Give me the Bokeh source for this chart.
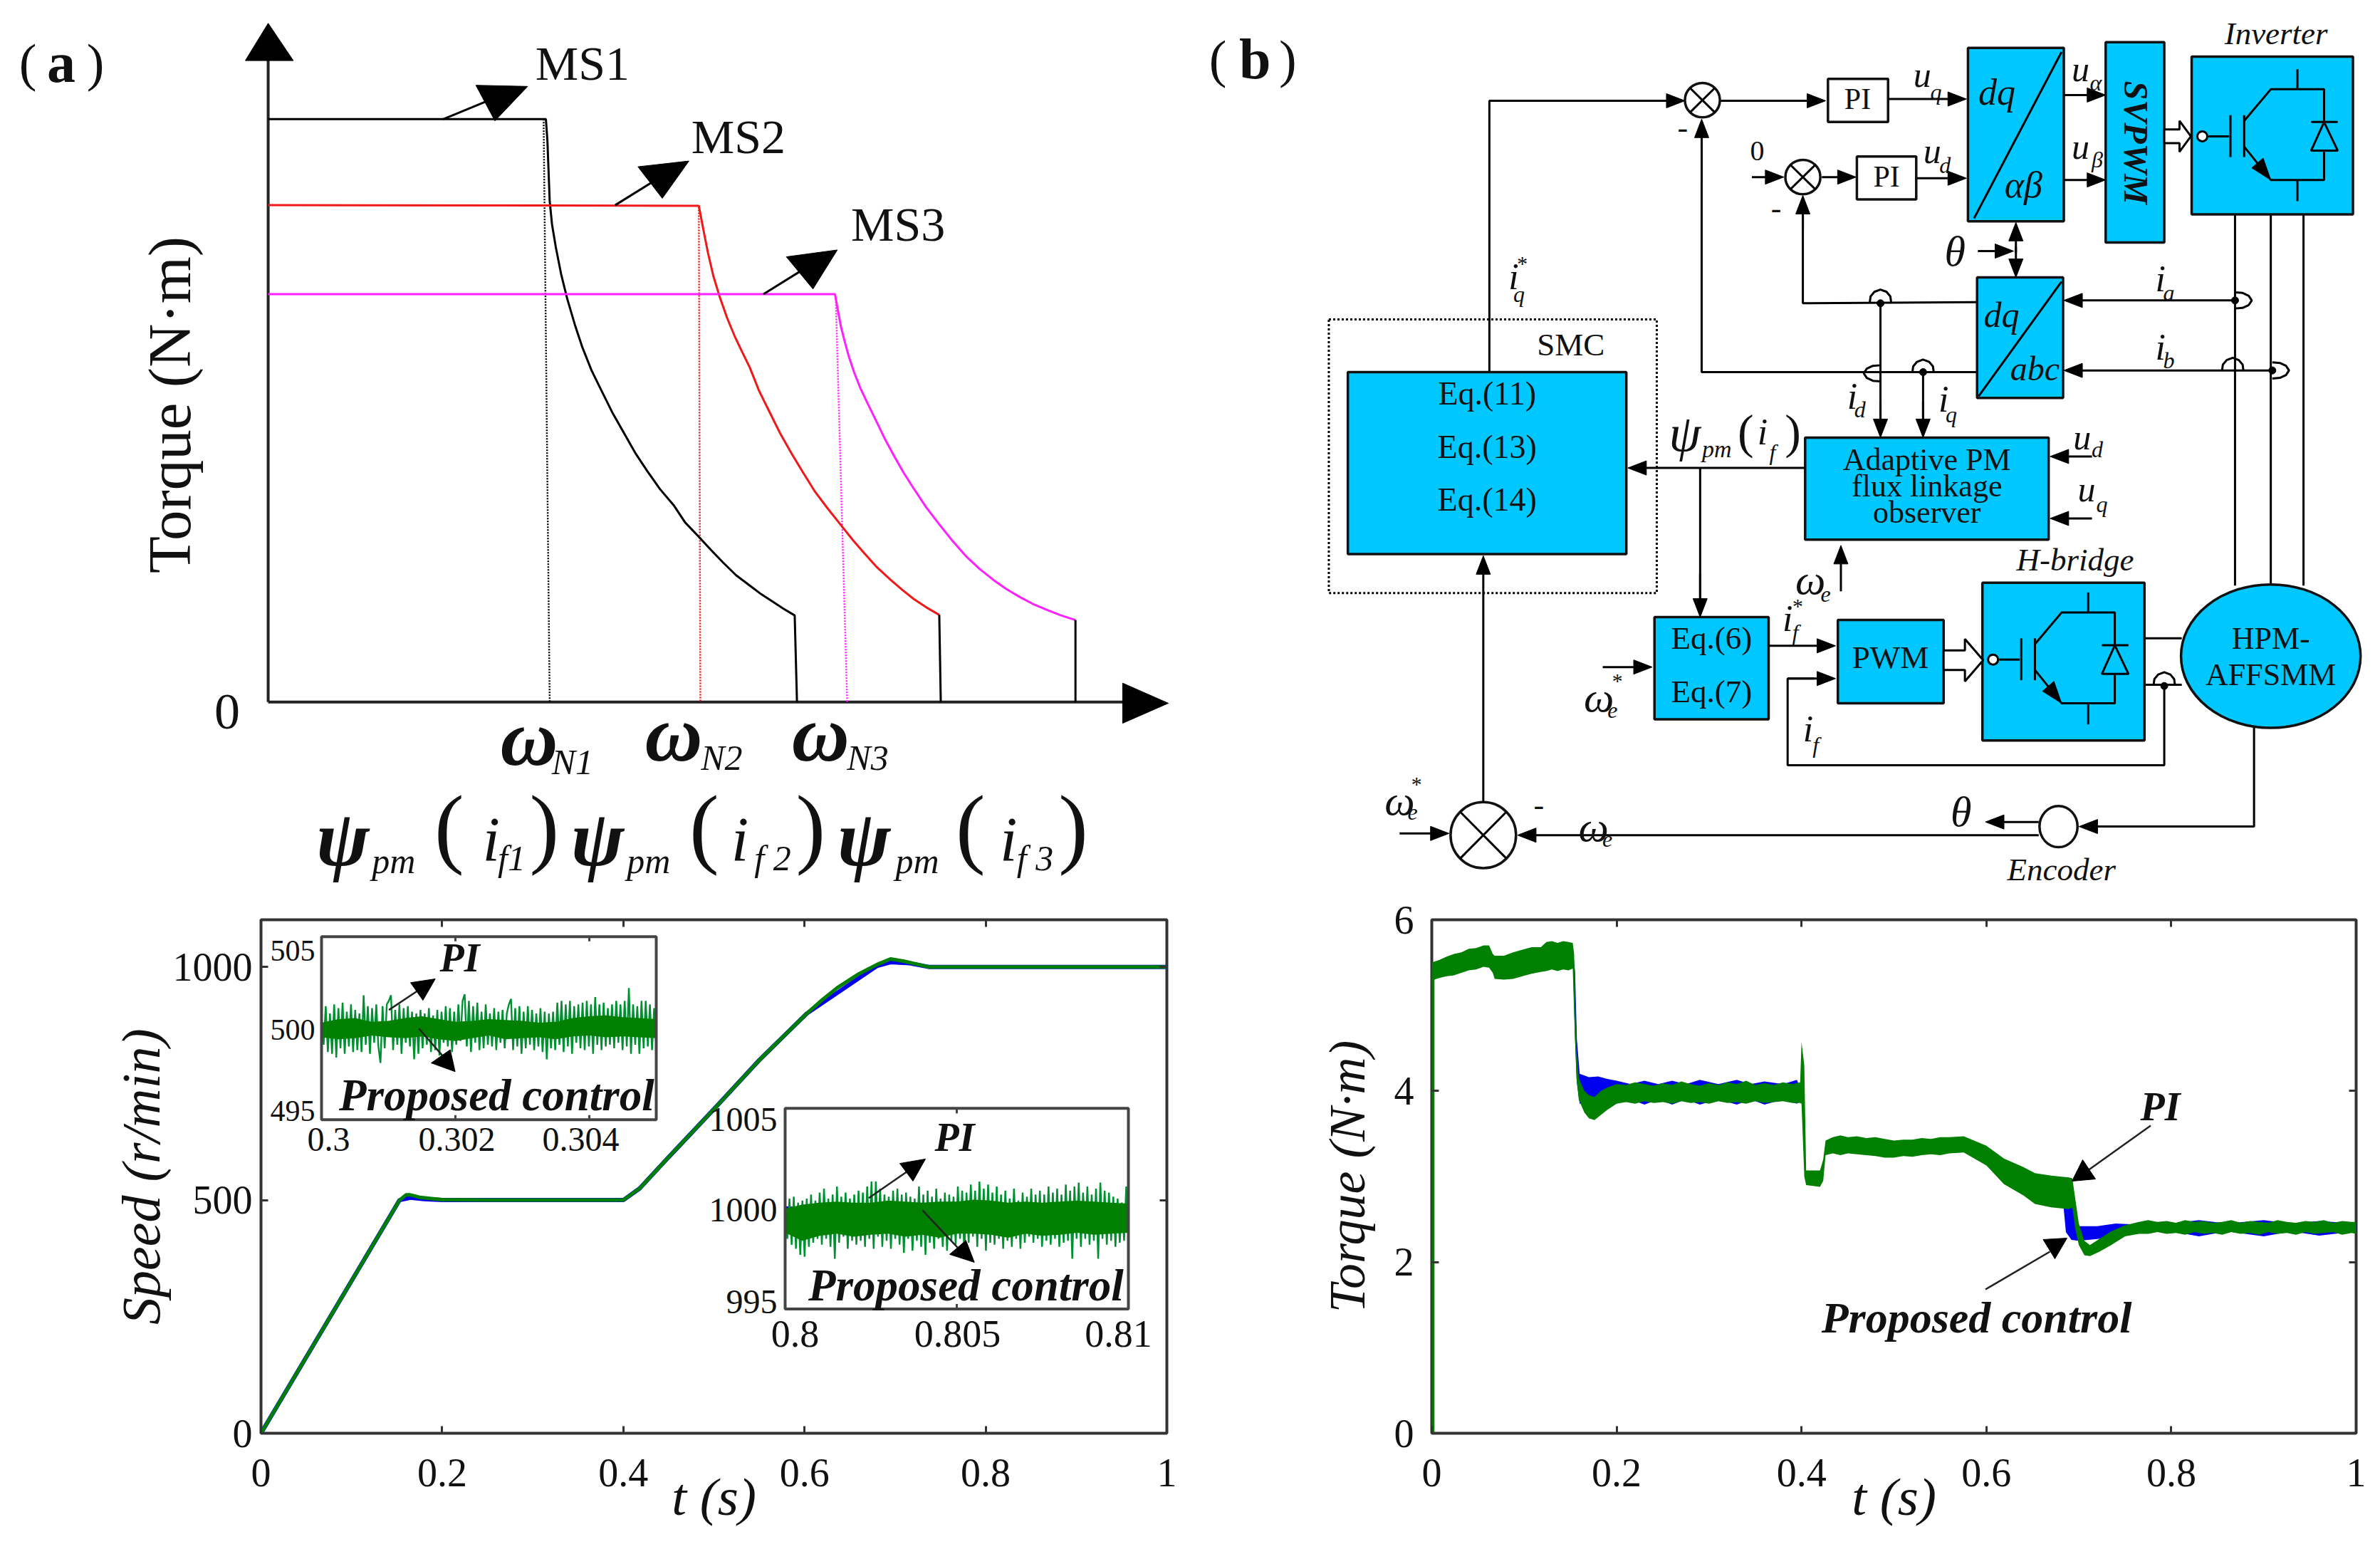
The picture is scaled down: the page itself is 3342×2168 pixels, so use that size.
from bokeh.plotting import figure
from bokeh.layouts import column, row
from bokeh.embed import file_html
from bokeh.resources import INLINE
from bokeh.core.properties import value
from bokeh.models import Range1d, LinearAxis, FixedTicker
import math

# ---------------- DATA: panel (a), torque/speed envelopes ----------------
MS1_X = [352, 717, 719, 720, 722, 725, 730, 737, 745, 755, 765, 777, 790, 805, 820, 835, 850, 867, 885, 900, 918, 934, 950, 967, 985, 1000, 1015, 1030, 1044, 1047]
MS1_Y = [207, 207, 245, 280, 350, 390, 430, 477, 520, 565, 605, 645, 680, 720, 755, 790, 820, 852, 880, 910, 935, 958, 980, 1002, 1020, 1035, 1048, 1061, 1072, 1223]
MS2_X = [352, 918, 924, 930, 937, 945, 955, 965, 975, 985, 997, 1010, 1025, 1040, 1055, 1070, 1087, 1105, 1120, 1135, 1152, 1170, 1185, 1200, 1217, 1234]
MS2_Y = [357, 358, 400, 440, 480, 515, 553, 585, 613, 640, 680, 715, 755, 790, 823, 855, 885, 915, 940, 963, 988, 1010, 1027, 1043, 1058, 1071]
MS2_END_X = [1234, 1236]
MS2_END_Y = [1071, 1223]
MS3_X = [352, 1097, 1101, 1105, 1110, 1115, 1122, 1130, 1140, 1150, 1162, 1175, 1187, 1200, 1217, 1235, 1252, 1270, 1287, 1305, 1322, 1340, 1357, 1375, 1394, 1413]
MS3_Y = [512, 512, 542, 570, 596, 620, 648, 675, 703, 730, 763, 795, 823, 850, 884, 915, 943, 970, 991, 1010, 1026, 1040, 1052, 1062, 1072, 1080]
MS3_END_X = [1413, 1413]
MS3_END_Y = [1080, 1223]
RATED = [(714, 207, 722, "#000000"), (918, 360, 920, "#e02020"), (1098, 520, 1113, "#ff20ff")]
MS_ARROWS = [
    ("MS1", 765, 110, [582, 650], [207, 170], [625, 693, 650], [148, 150, 210]),
    ("MS2", 970, 238, [808, 865], [357, 310], [838, 905, 870], [290, 280, 345]),
    ("MS3", 1180, 390, [1003, 1060], [512, 465], [1033, 1100, 1068], [447, 435, 503]),
]
OMEGA_LABELS = [("N1", 695, 1285, 752, 1328), ("N2", 885, 1278, 948, 1320), ("N3", 1078, 1278, 1140, 1320)]
PSI_LABELS = [
    (450, 517, 590, 645, 672, "f1", 715),
    (785, 852, 925, 972, 1015, "f 2", 1065),
    (1135, 1205, 1275, 1325, 1360, "f 3", 1410),
]

# ---------------- DATA: panel (b), block diagram ----------------
CYAN = [(1022, 83, 1148, 385), (1203, 73, 1280, 422), (1316, 98, 1528, 373), (1034, 483, 1147, 693),
        (207, 648, 573, 965), (808, 762, 1128, 940), (610, 1075, 760, 1253), (851, 1080, 990, 1225),
        (1041, 1015, 1254, 1290)]
WHITE = [(838, 137, 917, 212), (876, 272, 954, 347)]
WIRES = [
    ([393, 393, 620], [648, 175, 175]),
    ([672, 672, 1034], [240, 648, 648]),
    ([805, 805, 1034], [370, 528, 526]),
    ([907, 907], [528, 740]),
    ([963, 963], [648, 740]),
    ([1373, 1373], [373, 1020]), ([1420, 1420], [373, 1020]), ([1463, 1463], [373, 1020]),
    ([670, 670], [815, 1050]),
    ([1280, 1280, 785, 785, 820], [1195, 1333, 1333, 1182, 1182]),
    ([1254, 1303], [1112, 1112]), ([1254, 1303], [1193, 1193]),
    ([1398, 1398, 1190], [1268, 1440, 1440]),
]
DIAGONALS = [([1036, 1145], [690, 490]), ([1030, 1145], [380, 90])]
ARROWS_B = [
    (560, 175, 650, 175), (697, 175, 835, 175), (917, 172, 1020, 172), (738, 308, 780, 308), (830, 308, 875, 308),
    (955, 310, 1020, 310), (1148, 165, 1203, 165), (1148, 313, 1203, 313), (672, 260, 672, 207), (805, 400, 805, 340),
    (907, 700, 907, 762), (963, 700, 963, 762), (1035, 437, 1082, 437), (1085, 440, 1085, 387), (1085, 430, 1085, 483),
    (1373, 523, 1148, 523), (1422, 645, 1148, 645), (808, 815, 575, 815), (670, 1000, 670, 1075), (855, 1030, 855, 950),
    (1185, 795, 1130, 795), (1185, 903, 1130, 903), (542, 1162, 607, 1162), (760, 1125, 848, 1125), (785, 1182, 848, 1182),
    (1230, 1440, 1168, 1440), (1115, 1432, 1045, 1432), (1115, 1455, 430, 1455), (385, 1398, 385, 968), (275, 1452, 340, 1452),
]
SUMS = [(673, 174, 46, 60), (805, 308, 46, 60), (385, 1455, 86, 115)]
DOTS = [(907, 528), (963, 648), (1373, 523), (1422, 645), (1280, 1195)]
HUMPS_TOP = [(907, 526), (963, 648), (1370, 645), (1280, 1193)]
HUMPS_SIDE = [(1373, 523, 1), (1422, 645, 1), (907, 650, -1)]
HUMP_A = [14, 13, 8, 0, -8, -13, -14]
HUMP_B = [0, 10, 18, 22, 18, 10, 0]
IGBT_LINES = [
    ([1338, 1365], [237, 237]), ([1367, 1367], [200, 273]), ([1385, 1385], [200, 273]),
    ([1385, 1420, 1490, 1490, 1420, 1385], [210, 155, 155, 313, 313, 255]),
    ([1455, 1455], [120, 155]), ([1455, 1455], [313, 350]), ([1473, 1508], [212, 212]),
]
IGBT_DIODE_X = [1473, 1508, 1490]
IGBT_DIODE_Y = [262, 262, 212]
IGBT_HEAD_X = [1420, 1395, 1410]
IGBT_HEAD_Y = [313, 292, 275]
TEXT_B = [
    ("Inverter", 1427, 58, 45, "italic"), ("H-bridge", 1163, 975, 45, "italic"), ("SMC", 500, 600, 45, "normal"),
    ("Eq.(11)", 390, 685, 46, "normal"), ("Eq.(13)", 390, 778, 46, "normal"), ("Eq.(14)", 390, 870, 46, "normal"),
    ("Eq.(6)", 685, 1112, 45, "normal"), ("Eq.(7)", 685, 1205, 45, "normal"), ("PWM", 920, 1145, 45, "normal"),
    ("PI", 877, 172, 42, "normal"), ("PI", 915, 307, 42, "normal"),
    ("Adaptive PM", 968, 800, 44, "normal"), ("flux linkage", 968, 847, 44, "normal"), ("observer", 968, 893, 44, "normal"),
    ("HPM-", 1420, 1112, 44, "normal"), ("AFFSMM", 1420, 1175, 44, "normal"),
    ("Encoder", 1145, 1515, 45, "italic"), ("0", 745, 262, 40, "normal"),
    ("-", 647, 222, 44, "normal"), ("-", 770, 362, 44, "normal"), ("-", 458, 1403, 44, "normal"),
    ("dq", 1060, 160, 52, "italic"), ("\u03b1\u03b2", 1095, 322, 52, "italic"),
    ("dq", 1066, 548, 50, "italic"), ("abc", 1110, 642, 48, "italic"),
    ("u", 962, 130, 50, "italic"), ("q", 980, 160, 32, "italic"), ("u", 975, 262, 50, "italic"), ("d", 992, 287, 32, "italic"),
    ("u", 1170, 120, 50, "italic"), ("\u03b1", 1190, 143, 32, "italic"), ("u", 1170, 255, 50, "italic"), ("\u03b2", 1192, 278, 32, "italic"),
    ("\u03b8", 1005, 438, 60, "italic"), ("\u03b8", 1013, 1415, 60, "italic"),
    ("i", 425, 482, 52, "italic"), ("q", 432, 512, 32, "italic"), ("*", 435, 458, 30, "italic"),
    ("i", 1275, 485, 52, "italic"), ("a", 1286, 510, 32, "italic"), ("i", 1275, 605, 52, "italic"), ("b", 1286, 628, 32, "italic"),
    ("i", 870, 690, 52, "italic"), ("d", 880, 713, 32, "italic"), ("i", 990, 695, 52, "italic"), ("q", 1000, 722, 32, "italic"),
    ("\u03c8", 650, 755, 72, "italic"), ("pm", 692, 782, 34, "italic"), ("(", 730, 752, 68, "normal"), ("i", 752, 752, 52, "italic"),
    ("f", 765, 787, 32, "italic"), (")", 792, 752, 68, "normal"),
    ("u", 1172, 762, 50, "italic"), ("d", 1192, 782, 32, "italic"), ("u", 1178, 852, 50, "italic"), ("q", 1198, 878, 32, "italic"),
    ("\u03c9", 815, 1010, 60, "italic"), ("e", 835, 1035, 32, "italic"),
    ("i", 785, 1078, 52, "italic"), ("f", 795, 1102, 32, "italic"), ("*", 797, 1055, 30, "italic"),
    ("\u03c9", 537, 1215, 60, "italic"), ("e", 555, 1238, 32, "italic"), ("*", 560, 1185, 30, "italic"),
    ("i", 812, 1270, 52, "italic"), ("f", 822, 1298, 32, "italic"),
    ("\u03c9", 275, 1395, 60, "italic"), ("e", 292, 1415, 32, "italic"), ("*", 296, 1365, 30, "italic"),
    ("\u03c9", 530, 1440, 60, "italic"), ("e", 548, 1462, 32, "italic"),
]

# ---------------- DATA: panel (c), speed ----------------
SPEED_T = [0, .153, .16, .165, .175, .2, .25, .4, .418, .45, .5, .55, .6025, .62, .636, .66, .68, .695, .71, .737, .8, 1]
SPEED_PROPOSED = [0, 500, 511, 511, 506, 501, 500, 500, 525, 592, 695, 800, 900, 930, 955, 985, 1005, 1017, 1012, 1000, 1000, 1000]
SPEED_PI_T = [0, .153, .165, .18, .2, .4, .418, .45, .5, .55, .6025, .68, .695, .715, .737, 1]
SPEED_PI = [0, 500, 505, 502, 500, 500, 525, 592, 695, 800, 900, 1002, 1010, 1008, 1000, 1000]
C_XTICKS = [0, .2, .4, .6, .8, 1]
C_XLABELS = ["0", "0.2", "0.4", "0.6", "0.8", "1"]
C_YTICKS = [0, 500, 1000]

INSET1_DEV = [.5,-.9,1.2,-1.3,.8,-1.4,1.3,-1.6,1.1,-1.1,1.4,-1.4,.9,-1.0,1.3,-1.3,
              1.0,-1.2,.8,-1.3,1.8,-.9,1.2,-1.4,1.1,-.8,1.3,-1.0,-1.9,1.2,-1.1,1.3,
              1.5,1.8,-1.2,1.0,-.9,1.3,-1.4,1.1,-.8,1.2,-1.0,.9,-1.7,.8,-1.4,1.0,
              -1.1,.8,-.9,1.1,-1.3,.7,-1.2,1.0,-1.5,.9,-.8,1.2,-1.0,1.1,-1.3,.9,
              -.9,1.3,-.7,1.5,1.85,-1.0,1.5,-1.3,1.2,-.8,1.4,-1.2,.9,-1.1,1.3,-.9,
              .8,-1.0,1.1,-1.2,.9,-.8,1.0,-1.1,.8,1.3,1.6,-1.2,1.1,-1.0,1.2,-1.4,
              .9,-1.1,1.2,-.9,1.0,-1.2,.8,-1.0,1.1,-1.3,.9,-1.7,.8,-1.1,.9,-1.2,
              1.4,-.9,1.5,-1.3,1.3,-1.0,1.5,-1.4,1.2,-.8,1.3,-1.1,1.4,-1.2,1.5,-1.0,
              1.3,-1.4,1.7,-.9,1.3,-1.2,1.4,-1.0,1.1,-.9,1.3,-1.1,1.5,-.8,1.3,-1.2,
              1.5,-1.0,2.2,-1.4,1.3,-.9,1.2,-1.4,1.5,-1.1,1.5,-1.0,1.3,-1.2,1.1,-.9]
INSET2_DEV = [-.2,-1.5,.5,-1.8,.6,-2.0,.3,-2.3,.4,-2.4,.5,-1.9,.7,-1.7,.4,-1.5,
              .8,-1.8,1.0,-1.5,.5,-1.9,.7,-2.5,1.1,-1.7,.6,-1.4,.8,-2.0,.5,-1.6,
              .7,-1.8,.9,-1.6,.8,-1.9,1.1,-1.5,1.35,-2.0,1.35,-1.4,1.0,-1.9,.7,-1.6,
              .6,-2.0,.9,-1.5,1.0,-1.8,.7,-2.2,.8,-1.5,.6,-2.1,.5,-1.6,1.1,-1.9,
              .7,-2.3,.9,-1.7,.6,-2.0,1.0,-1.5,.5,-1.9,.8,-2.1,.7,-1.6,.6,-1.8,
              1.1,-1.5,.9,-2.3,.8,-1.7,1.2,-1.4,.9,-1.9,1.35,-1.5,1.0,-2.1,1.2,-1.7,
              .8,-1.8,1.1,-1.5,.7,-2.0,.9,-1.6,.5,-1.9,1.0,-1.5,.4,-2.0,.8,-1.7,
              .6,-1.4,1.0,-1.7,.7,-1.5,.9,-1.9,.7,-1.6,1.1,-1.8,.8,-1.5,1.0,-1.9,
              .7,-1.7,1.2,-1.6,.9,-2.5,1.1,-1.5,1.3,-1.9,.8,-1.5,1.1,-1.8,.7,-1.6,
              1.0,-2.5,1.3,-1.5,.9,-1.8,.8,-1.6,.6,-1.9,.5,-1.7,.3,-1.6,1.1,-1.3]
INSET_BLUE_DEV = [.05, -.05, .08, -.06, .04, -.08, .06, -.04, .07, -.05, .05]
INSET1_CORE_UP = [.3, .5, .55, .35, .4, .55, .65, .5, .35, .4, .5, .45, .4, .3, .35, .55, .65, .7, .6, .55, .5]
INSET1_CORE_LOW = [-.5, -.6, -.55, -.4, -.5, -.55, -.45, -.6, -.7, -.55, -.4, -.6, -.55, -.5, -.6, -.45, -.4, -.5, -.45, -.5, -.55]
INSET2_CORE_UP = [.0, .2, .3, .35, .3, .3, .4, .35, .3, .35, .35, .45, .4, .3, .35, .3, .35, .4, .35, .3, .25]
INSET2_CORE_LOW = [-1.2, -1.6, -1.35, -1.25, -1.4, -1.3, -1.25, -1.4, -1.3, -1.45, -1.25, -1.25, -1.3, -1.45, -1.25, -1.35, -1.3, -1.2, -1.3, -1.25, -1.2]
INSET1_XT = [.302, .304]
INSET1_XLABELS = [("0.3", 461), ("0.302", 641), ("0.304", 815)]
INSET1_YLABELS = [("505", 1333), ("500", 1445), ("495", 1560)]
INSET2_XT = [.805]
INSET2_XLABELS = [("0.8", 1116), ("0.805", 1344), ("0.81", 1570)]
INSET2_YLABELS = [("1005", 1572), ("1000", 1700), ("995", 1830)]
C_NOTES = [
    ("PI", 645, 1343), ("Proposed control", 697, 1538),
    ("PI", 1340, 1597), ("Proposed control", 1356, 1807),
]
C_ARROW_LINES = [([545.6, 589.6], [1416.7, 1387]), ([587.7, 624], [1443, 1485]),
                 ([1219.4, 1276.8], [1683, 1643]), ([1294.6, 1344], [1700, 1753])]
C_ARROW_HEADS = [([610.7, 576, 593.4], [1372.7, 1378, 1403]), ([638.6, 605, 631.7], [1504, 1491.7, 1473]),
                 ([1299, 1263, 1281.5], [1627.7, 1634, 1659]), ([1367.7, 1333, 1355.9], [1774, 1762.7, 1743])]

# ---------------- DATA: panel (d), torque ----------------
TQ_T = [0, .008, .016, .024, .032, .04, .048, .056, .062, .066, .068, .078, .088, .098, .108, .118, .124, .13, .136, .142, .148, .1525,
        .154, .1565, .159, .165, .17, .176, .183, .19, .2,
        .21, .22, .23, .24, .25, .26, .27, .28, .29, .30, .31, .32, .33, .34, .35, .36, .37, .38, .39, .3985,
        .4, .403, .405, .42, .4235, .426, .434, .442, .45, .46, .47, .48, .49, .5, .51, .52, .53, .54, .55, .56, .5755,
        .6, .619, .64, .6525, .67, .689, .693, .696, .7, .706, .712, .722, .735, .75, .765,
        .775, .785, .795, .805, .815, .825, .835, .845, .855, .865, .875, .885, .895, .905, .915, .925, .935, .945, .955, .965, .975, .985, .995, 1]
TQ_UP = [5.50, 5.53, 5.57, 5.60, 5.62, 5.66, 5.67, 5.70, 5.70, 5.60, 5.58, 5.58, 5.62, 5.65, 5.68, 5.68, 5.74, 5.75, 5.73, 5.75, 5.74, 5.73,
         5.60, 4.50, 4.15, 4.00, 3.95, 3.93, 4.00, 4.04, 4.08,
         4.07, 4.10, 4.08, 4.06, 4.09, 4.07, 4.11, 4.08, 4.06, 4.09, 4.07, 4.10, 4.08, 4.12, 4.07, 4.09, 4.07, 4.10, 4.08, 4.10,
         4.57, 4.30, 3.07, 3.07, 3.20, 3.42, 3.46, 3.48, 3.46, 3.47, 3.45, 3.46, 3.44, 3.42, 3.43, 3.43, 3.45, 3.44, 3.46, 3.46, 3.47,
         3.36, 3.21, 3.11, 3.04, 3.01, 2.99, 2.98, 2.75, 2.45, 2.25, 2.20, 2.27, 2.36, 2.43, 2.47,
         2.49, 2.47, 2.48, 2.46, 2.49, 2.47, 2.48, 2.46, 2.47, 2.49, 2.46, 2.48, 2.47, 2.46, 2.49, 2.47, 2.46, 2.48, 2.47, 2.49, 2.46, 2.48, 2.47, 2.47]
TQ_LOW = [5.29, 5.32, 5.34, 5.35, 5.38, 5.41, 5.42, 5.45, 5.44, 5.38, 5.31, 5.30, 5.31, 5.34, 5.37, 5.39, 5.40, 5.42, 5.40, 5.42, 5.41, 5.43,
          4.90, 4.15, 3.90, 3.75, 3.68, 3.66, 3.72, 3.78, 3.85,
          3.87, 3.85, 3.88, 3.86, 3.87, 3.85, 3.88, 3.86, 3.87, 3.85, 3.88, 3.86, 3.87, 3.85, 3.88, 3.86, 3.87, 3.88, 3.86, 3.86,
          3.85, 3.00, 2.90, 2.88, 2.95, 3.25, 3.27, 3.25, 3.27, 3.26, 3.25, 3.24, 3.22, 3.22, 3.24, 3.23, 3.25, 3.26, 3.25, 3.27, 3.28,
          3.13, 2.91, 2.78, 2.68, 2.64, 2.62, 2.64, 2.40, 2.20, 2.08, 2.07, 2.12, 2.20, 2.30, 2.33,
          2.33, 2.35, 2.33, 2.34, 2.32, 2.35, 2.33, 2.34, 2.32, 2.35, 2.33, 2.34, 2.32, 2.35, 2.33, 2.34, 2.32, 2.35, 2.33, 2.34, 2.35, 2.32, 2.34, 2.33]
BL1_T = [.153, .155, .157, .16, .17, .18, .19, .2, .215, .23, .245, .26, .275, .29, .31, .33, .345, .36, .38, .395, .4]
BL1_UP = [5.6, 5.4, 4.6, 4.2, 4.16, 4.17, 4.14, 4.12, 4.08, 4.12, 4.08, 4.12, 4.08, 4.13, 4.08, 4.13, 4.08, 4.11, 4.08, 4.13, 4.0]
BL1_LOW = [5.4, 4.6, 4.1, 3.85, 3.85, 3.9, 3.88, 3.86, 3.90, 3.84, 3.9, 3.84, 3.9, 3.84, 3.9, 3.84, 3.9, 3.84, 3.9, 3.85, 3.9]
BL2_T = [.683, .686, .692, .7, .72, .74, .76, .8, .83, .86, .9, .93, .96, 1]
BL2_UP = [2.9, 2.85, 2.70, 2.42, 2.42, 2.45, 2.44, 2.45, 2.49, 2.45, 2.49, 2.45, 2.48, 2.45]
BL2_LOW = [2.7, 2.35, 2.26, 2.25, 2.27, 2.29, 2.36, 2.36, 2.30, 2.36, 2.30, 2.36, 2.31, 2.36]
TQ_RISE_T = [.001, .001]
TQ_RISE = [0, 5.4]
D_YTICKS = [0, 2, 4, 6]
D_NOTES = [("PI", 3033, 1553), ("Proposed control", 2775, 1849)]
D_ARROW_LINES = [([3019.5, 2926], [1580, 1646.7]), ([2787.5, 2878], [1810, 1757])]
D_ARROW_HEADS = [([2909, 2924, 2942], [1658, 1628, 1655]), ([2902, 2868.5, 2885], [1738, 1740, 1767])]

# ---------------- layout constants ----------------
SERIF = "Liberation Serif"
INK = "#111111"
GREEN = "#007f00"
BLUE = "#0000ee"
CYAN_FILL = "#00c8ff"
SX = 1671 / 1564
SY = 1260 / 1564
LEFT_W, RIGHT_W, TOP_H, BOT_H = 1671, 1670, 1260, 906


def txt(p, s, x, y, size, style="normal", font=SERIF, angle=0.0, color=INK, align="center", **kw):
    p.text(x=[x], y=[y], text=[s], text_font=value(font), text_font_size=f"{size}px",
           text_font_style=style, text_color=color, text_align=align, text_baseline="middle",
           angle=angle, **kw)


def panel_tag(p, letter, xl, xm, xr, y, **kw):
    txt(p, "(", xl, y, 74, **kw)
    txt(p, letter, xm, y, 80, "bold", **kw)
    txt(p, ")", xr, y, 74, **kw)


def diagram(w):
    p = figure(width=w, height=TOP_H, output_backend="svg", toolbar_location=None,
               x_range=Range1d(0, w / SX), y_range=Range1d(TOP_H / SY, 0),
               x_axis_type=None, y_axis_type=None, min_border=0, outline_line_color=None)
    p.grid.visible = False
    return p


def arrow(p, x1, y1, x2, y2, size=26, half=10):
    dx, dy = (x2 - x1) * SX, (y2 - y1) * SY
    L = math.hypot(dx, dy)
    ux, uy = dx / L, dy / L
    bx, by = x2 - ux * size / SX, y2 - uy * size / SY
    px_, py_ = -uy * half / SX, ux * half / SY
    p.line([x1, bx], [y1, by], line_color="black", line_width=3)
    p.patch([x2, bx + px_, bx - px_], [y2, by + py_, by - py_], color="black")


# ---------------- panel (a) ----------------
pa = diagram(LEFT_W)
panel_tag(pa, "a", 36, 80, 125, 108)
pa.line([352, 352], [1223, 100], line_color="#222222", line_width=4)
pa.line([352, 1480], [1223, 1223], line_color="#222222", line_width=4)
pa.patch([352, 322, 385], [40, 105, 105], color="black")
pa.patch([1535, 1475, 1475], [1225, 1190, 1260], color="black")
for x1, y1, x2, col in RATED:
    pa.line([x1, x2], [y1, 1223], line_color=col, line_width=2.5, line_dash="2 2")
pa.line(MS1_X, MS1_Y, line_color="black", line_width=3)
pa.line(MS2_X, MS2_Y, line_color="#f01818", line_width=3)
pa.line(MS2_END_X, MS2_END_Y, line_color="black", line_width=3)
pa.line(MS3_X, MS3_Y, line_color="#ff20ff", line_width=3)
pa.line(MS3_END_X, MS3_END_Y, line_color="black", line_width=3)
for name, tx, ty, lx, ly, hx, hy in MS_ARROWS:
    pa.line(lx, ly, line_color="black", line_width=3)
    pa.patch(hx, hy, color="black")
    txt(pa, name, tx, ty, 68)
txt(pa, "Torque (N\u00b7m)", 222, 705, 85, angle=1.5708)
txt(pa, "0", 298, 1240, 72)
for sub, ox, oy, sx, sy in OMEGA_LABELS:
    txt(pa, "\u03c9", ox, oy, 112, "bold italic")
    txt(pa, sub, sx, sy, 50, "italic")
for px_, pmx, lp, ix, fx, f, rp in PSI_LABELS:
    txt(pa, "\u03c8", px_, 1460, 112, "bold italic")
    txt(pa, "pm", pmx, 1500, 50, "italic")
    txt(pa, "(", lp, 1440, 125)
    txt(pa, "i", ix, 1462, 88, "italic")
    txt(pa, f, fx, 1495, 50, "italic")
    txt(pa, ")", rp, 1440, 125)

# ---------------- panel (b) ----------------
pb = diagram(RIGHT_W)
panel_tag(pb, "b", 36, 85, 128, 103)
pb.quad(left=[182], right=[613], top=[556], bottom=[1033], fill_color=None, line_color="black",
        line_width=3, line_dash="3 3")
pb.multi_line([w[0] for w in WIRES], [w[1] for w in WIRES], line_color="black", line_width=3)
pb.quad(left=[b[0] for b in CYAN], right=[b[2] for b in CYAN], top=[b[1] for b in CYAN], bottom=[b[3] for b in CYAN],
        fill_color=CYAN_FILL, line_color="#111111", line_width=3.5)
pb.multi_line([d[0] for d in DIAGONALS], [d[1] for d in DIAGONALS], line_color="black", line_width=3)
pb.quad(left=[b[0] for b in WHITE], right=[b[2] for b in WHITE], top=[b[1] for b in WHITE], bottom=[b[3] for b in WHITE],
        fill_color="white", line_color="#111111", line_width=3.5)
pb.ellipse(x=[1420], y=[1143], width=[236], height=[250], fill_color=CYAN_FILL, line_color="#111111", line_width=3.5)
pb.ellipse(x=[1141], y=[1440], width=[50], height=[72], fill_color="white", line_color="#111111", line_width=3.5)
for cx, cy, w, h in SUMS:
    pb.ellipse(x=[cx], y=[cy], width=[w], height=[h], fill_color="white", line_color="#111111", line_width=3.5)
    pb.line([cx - w * .35, cx + w * .35], [cy - h * .35, cy + h * .35], line_color="black", line_width=3)
    pb.line([cx - w * .35, cx + w * .35], [cy + h * .35, cy - h * .35], line_color="black", line_width=3)
for x1, y1, x2, y2 in ARROWS_B:
    arrow(pb, x1, y1, x2, y2)
for hx, hy in HUMPS_TOP:
    pb.line([hx + a for a in HUMP_A], [hy - b for b in HUMP_B], line_color="black", line_width=3)
for hx, hy, sgn in HUMPS_SIDE:
    pb.line([hx + sgn * b for b in HUMP_B], [hy + a for a in HUMP_A], line_color="black", line_width=3)
pb.scatter([d[0] for d in DOTS], [d[1] for d in DOTS], size=10, color="black")
for dx, dy in [(0, 0), (-275, 912)]:
    pb.scatter([1330 + dx], [237 + dy], size=14, fill_color="white", line_color="black", line_width=3)
    pb.multi_line([[v + dx for v in l[0]] for l in IGBT_LINES], [[v + dy for v in l[1]] for l in IGBT_LINES],
                  line_color="black", line_width=3)
    pb.patch([v + dx for v in IGBT_DIODE_X], [v + dy for v in IGBT_DIODE_Y], fill_color=CYAN_FILL, line_color="black", line_width=3)
    pb.patch([v + dx for v in IGBT_HEAD_X], [v + dy for v in IGBT_HEAD_Y], color="black")
pb.patch([1280, 1300, 1300, 1315, 1300, 1300, 1280], [225, 225, 210, 237, 264, 249, 249], fill_color="white", line_color="black", line_width=3)
pb.patch([990, 1018, 1018, 1042, 1018, 1018, 990], [1133, 1133, 1113, 1150, 1187, 1167, 1167], fill_color="white", line_color="black", line_width=3)
for s, x, y, size, style in TEXT_B:
    txt(pb, s, x, y, size, style)
txt(pb, "SVPWM", 1243, 248, 48, "bold italic", angle=-1.5708)

# ---------------- panel (c) ----------------
C_L, C_R, C_T, C_B = 366, 1638, 1289, 2016


def chart(L, R, T, B, x0, w, yr, xlabel, ylabel, ylab_standoff, yt_standoff, xt, xl, yt, lab_size):
    p = figure(width=w, height=BOT_H, output_backend="svg", toolbar_location=None,
               x_range=Range1d(0, 1), y_range=Range1d(*yr),
               min_border_left=L - x0, min_border_right=x0 + w - R,
               min_border_top=T - TOP_H, min_border_bottom=TOP_H + BOT_H - B,
               outline_line_color="#333333", outline_line_width=4)
    p.grid.visible = False
    for ax, ticks, labs in [(p.xaxis[0], xt, xl), (p.yaxis[0], yt, [str(v) for v in yt])]:
        ax.ticker = FixedTicker(ticks=ticks)
        ax.major_label_overrides = dict(zip(ticks, labs))
        ax.major_tick_in = 10
        ax.major_tick_out = 0
        ax.minor_tick_line_color = None
        ax.major_tick_line_color = "#333333"
        ax.major_tick_line_width = 3
        ax.axis_line_color = None
        ax.major_label_text_font = SERIF
        ax.major_label_text_font_size = "56px"
        ax.major_label_text_color = INK
        ax.axis_label_text_font = SERIF
        ax.axis_label_text_font_style = "italic"
        ax.axis_label_text_color = INK
        ax.axis_label_text_font_size = f"{lab_size}px"
    p.xaxis[0].axis_label = xlabel
    p.xaxis[0].axis_label_text_font_size = "75px"
    p.yaxis[0].axis_label = ylabel
    p.xaxis[0].major_label_standoff = 36
    p.xaxis[0].axis_label_standoff = -30
    p.yaxis[0].major_label_standoff = yt_standoff
    p.yaxis[0].axis_label_standoff = ylab_standoff
    for side, ticks in [("above", xt), ("right", yt)]:
        a = LinearAxis(ticker=FixedTicker(ticks=ticks), major_label_overrides={t: "" for t in ticks},
                       major_tick_in=10, major_tick_out=0, minor_tick_line_color=None, axis_line_color=None,
                       major_tick_line_color="#333333", major_tick_line_width=3,
                       major_label_standoff=0, major_label_text_font_size="1px")
        p.add_layout(a, side)
    p.extra_x_ranges["px"] = Range1d(L, R)
    p.extra_y_ranges["px"] = Range1d(B, T)
    return p


pc = chart(C_L, C_R, C_T, C_B, 0, LEFT_W, (0, 1101), "t (s)", "Speed (r/min)", 0, 12, C_XTICKS, C_XLABELS, C_YTICKS, 76)
pc.line(SPEED_PI_T, SPEED_PI, line_color=BLUE, line_width=6)
pc.line(SPEED_T, SPEED_PROPOSED, line_color=GREEN, line_width=5)
panel_tag(pc, "c", 40, 83, 125, 1335, x_range_name="px", y_range_name="px")


def inset_range(a, b, A, B, F0, F1):
    k = (b - a) / (B - A)
    return Range1d(a + (F0 - A) * k, a + (F1 - A) * k)


def inset(p, nm, xa, xb, ya, yb, L, R, T, B, dev, core_up, core_low, base, xt, xlabels, ylabels, xfs, yfs, yright, xl_y):
    p.extra_x_ranges[nm] = inset_range(xa, xb, L, R, C_L, C_R)
    p.extra_y_ranges[nm] = inset_range(ya, yb, B, T, C_B, C_T)
    rn = dict(x_range_name=nm, y_range_name=nm)
    p.quad(left=[xa], right=[xb], bottom=[ya], top=[yb], fill_color="white", line_color=None, **rn)
    nb = len(INSET_BLUE_DEV)
    p.line([xa + (xb - xa) * i / (nb - 1) for i in range(nb)], [base + v for v in INSET_BLUE_DEV],
           line_color=BLUE, line_width=4, **rn)
    n = len(dev)
    p.line([xa + (xb - xa) * i / (n - 1) for i in range(n)], [base + v for v in dev],
           line_color="#009030", line_width=2.4, **rn)
    nc = len(core_up)
    p.varea(x=[xa + (xb - xa) * i / (nc - 1) for i in range(nc)], y1=[base + v for v in core_low],
            y2=[base + v for v in core_up], fill_color=GREEN, **rn)
    p.quad(left=[xa], right=[xb], bottom=[ya], top=[yb], fill_color=None, line_color="#444444", line_width=4, **rn)
    dy = (yb - ya) * 0.025
    p.segment(xt, [ya] * len(xt), xt, [ya + dy] * len(xt), line_color="#444444", line_width=3, **rn)
    p.segment(xt, [yb] * len(xt), xt, [yb - dy] * len(xt), line_color="#444444", line_width=3, **rn)
    pxn = dict(x_range_name="px", y_range_name="px")
    for s, x in xlabels:
        txt(p, s, x, xl_y, xfs, **pxn)
    for s, y in ylabels:
        txt(p, s, yright, y, yfs, align="right", **pxn)


inset(pc, "i1", .3, .305, 495, 505, 451, 921, 1313, 1572, INSET1_DEV, INSET1_CORE_UP, INSET1_CORE_LOW, 500,
      INSET1_XT, INSET1_XLABELS, INSET1_YLABELS, 48, 42, 442, 1600)
inset(pc, "i2", .8, .81, 995, 1005, 1102, 1584, 1556, 1840, INSET2_DEV, INSET2_CORE_UP, INSET2_CORE_LOW, 1000,
      INSET2_XT, INSET2_XLABELS, INSET2_YLABELS, 54, 48, 1091, 1875)
for lx, ly in C_ARROW_LINES:
    pc.line(lx, ly, line_color="#222222", line_width=2.5, x_range_name="px", y_range_name="px")
for hx, hy in C_ARROW_HEADS:
    pc.patch(hx, hy, color="black", x_range_name="px", y_range_name="px")
for s, x, y in C_NOTES:
    txt(pc, s, x, y, 56 if s == "PI" else 63, "bold italic", x_range_name="px", y_range_name="px")

# ---------------- panel (d) ----------------
D_L, D_R, D_T, D_B = 2010, 3308, 1291, 2012
pd_ = chart(D_L, D_R, D_T, D_B, 1671, RIGHT_W, (0, 6), "t (s)", "Torque (N\u00b7m)", 23, 25, C_XTICKS, C_XLABELS, D_YTICKS, 72)
pd_.varea(x=BL1_T, y1=BL1_LOW, y2=BL1_UP, fill_color=BLUE)
pd_.varea(x=BL2_T, y1=BL2_LOW, y2=BL2_UP, fill_color=BLUE)
pd_.varea(x=TQ_T, y1=TQ_LOW, y2=TQ_UP, fill_color=GREEN)
pd_.line(TQ_RISE_T, TQ_RISE, line_color=GREEN, line_width=5)
panel_tag(pd_, "d", 1716, 1762, 1810, 1335, x_range_name="px", y_range_name="px")
for lx, ly in D_ARROW_LINES:
    pd_.line(lx, ly, line_color="#222222", line_width=2.5, x_range_name="px", y_range_name="px")
for hx, hy in D_ARROW_HEADS:
    pd_.patch(hx, hy, color="black", x_range_name="px", y_range_name="px")
for s, x, y in D_NOTES:
    txt(pd_, s, x, y, 56 if s == "PI" else 62, "bold italic", x_range_name="px", y_range_name="px")

page = column(row(pa, pb, spacing=0), row(pc, pd_, spacing=0), spacing=0)
open("out.html", "w").write(file_html(page, INLINE))
